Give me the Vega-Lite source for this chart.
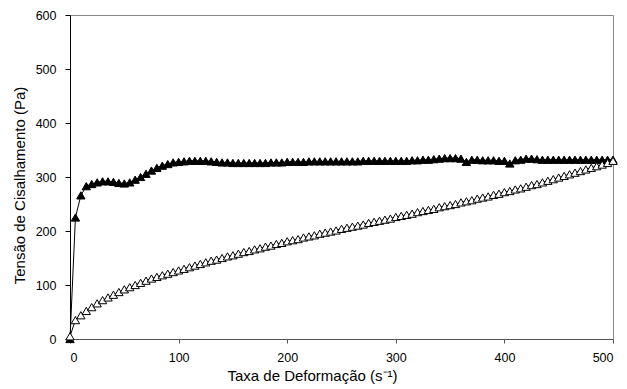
{
"$schema": "https://vega.github.io/schema/vega-lite/v6.json",
"autosize": "none",
"width": 543,
"height": 324,
"padding": {"left": 70, "top": 15, "right": 14, "bottom": 50},
"background": "white",
"config": {"view": {"stroke": "#888888", "strokeWidth": 1}, "font": "Liberation Sans"},
"data": {"values": [
{"x":0,"y":0,"s":"up"},{"x":5,"y":225,"s":"up"},{"x":10,"y":266,"s":"up"},{"x":15,"y":283,"s":"up"},{"x":20,"y":287,"s":"up"},{"x":25,"y":290,"s":"up"},{"x":30,"y":292,"s":"up"},{"x":35,"y":292,"s":"up"},{"x":40,"y":291,"s":"up"},{"x":45,"y":289,"s":"up"},{"x":50,"y":288,"s":"up"},{"x":55,"y":290,"s":"up"},{"x":60,"y":295,"s":"up"},{"x":65,"y":300,"s":"up"},{"x":70,"y":306,"s":"up"},{"x":75,"y":312,"s":"up"},{"x":80,"y":317,"s":"up"},{"x":85,"y":321,"s":"up"},{"x":90,"y":324,"s":"up"},{"x":95,"y":327,"s":"up"},{"x":100,"y":328,"s":"up"},{"x":105,"y":329,"s":"up"},{"x":110,"y":330,"s":"up"},{"x":115,"y":330,"s":"up"},{"x":120,"y":330,"s":"up"},{"x":125,"y":330,"s":"up"},{"x":130,"y":329,"s":"up"},{"x":135,"y":328,"s":"up"},{"x":140,"y":327,"s":"up"},{"x":145,"y":327,"s":"up"},{"x":150,"y":326,"s":"up"},{"x":155,"y":326,"s":"up"},{"x":160,"y":326,"s":"up"},{"x":165,"y":326,"s":"up"},{"x":170,"y":326,"s":"up"},{"x":175,"y":326,"s":"up"},{"x":180,"y":326,"s":"up"},{"x":185,"y":327,"s":"up"},{"x":190,"y":327,"s":"up"},{"x":195,"y":327,"s":"up"},{"x":200,"y":328,"s":"up"},{"x":205,"y":328,"s":"up"},{"x":210,"y":328,"s":"up"},{"x":215,"y":328,"s":"up"},{"x":220,"y":329,"s":"up"},{"x":225,"y":329,"s":"up"},{"x":230,"y":329,"s":"up"},{"x":235,"y":329,"s":"up"},{"x":240,"y":329,"s":"up"},{"x":245,"y":329,"s":"up"},{"x":250,"y":329,"s":"up"},{"x":255,"y":329,"s":"up"},{"x":260,"y":329,"s":"up"},{"x":265,"y":329,"s":"up"},{"x":270,"y":330,"s":"up"},{"x":275,"y":330,"s":"up"},{"x":280,"y":330,"s":"up"},{"x":285,"y":330,"s":"up"},{"x":290,"y":330,"s":"up"},{"x":295,"y":330,"s":"up"},{"x":300,"y":330,"s":"up"},{"x":305,"y":330,"s":"up"},{"x":310,"y":330,"s":"up"},{"x":315,"y":331,"s":"up"},{"x":320,"y":331,"s":"up"},{"x":325,"y":332,"s":"up"},{"x":330,"y":332,"s":"up"},{"x":335,"y":333,"s":"up"},{"x":340,"y":334,"s":"up"},{"x":345,"y":335,"s":"up"},{"x":350,"y":335,"s":"up"},{"x":355,"y":335,"s":"up"},{"x":360,"y":334,"s":"up"},{"x":365,"y":328,"s":"up"},{"x":370,"y":332,"s":"up"},{"x":375,"y":332,"s":"up"},{"x":380,"y":331,"s":"up"},{"x":385,"y":331,"s":"up"},{"x":390,"y":331,"s":"up"},{"x":395,"y":330,"s":"up"},{"x":400,"y":330,"s":"up"},{"x":405,"y":325,"s":"up"},{"x":410,"y":331,"s":"up"},{"x":415,"y":332,"s":"up"},{"x":420,"y":334,"s":"up"},{"x":425,"y":334,"s":"up"},{"x":430,"y":333,"s":"up"},{"x":435,"y":332,"s":"up"},{"x":440,"y":332,"s":"up"},{"x":445,"y":332,"s":"up"},{"x":450,"y":332,"s":"up"},{"x":455,"y":332,"s":"up"},{"x":460,"y":332,"s":"up"},{"x":465,"y":332,"s":"up"},{"x":470,"y":332,"s":"up"},{"x":475,"y":332,"s":"up"},{"x":480,"y":332,"s":"up"},{"x":485,"y":332,"s":"up"},{"x":490,"y":332,"s":"up"},{"x":495,"y":332,"s":"up"},{"x":500,"y":332,"s":"up"},
{"x":0,"y":5,"s":"down"},{"x":5,"y":35,"s":"down"},{"x":10,"y":44,"s":"down"},{"x":15,"y":52,"s":"down"},{"x":20,"y":59,"s":"down"},{"x":25,"y":66,"s":"down"},{"x":30,"y":72,"s":"down"},{"x":35,"y":77,"s":"down"},{"x":40,"y":82,"s":"down"},{"x":45,"y":87,"s":"down"},{"x":50,"y":92,"s":"down"},{"x":55,"y":96,"s":"down"},{"x":60,"y":100,"s":"down"},{"x":65,"y":104,"s":"down"},{"x":70,"y":108,"s":"down"},{"x":75,"y":112,"s":"down"},{"x":80,"y":115,"s":"down"},{"x":85,"y":118,"s":"down"},{"x":90,"y":121,"s":"down"},{"x":95,"y":124,"s":"down"},{"x":100,"y":127,"s":"down"},{"x":105,"y":130,"s":"down"},{"x":110,"y":133,"s":"down"},{"x":115,"y":136,"s":"down"},{"x":120,"y":139,"s":"down"},{"x":125,"y":142,"s":"down"},{"x":130,"y":145,"s":"down"},{"x":135,"y":147,"s":"down"},{"x":140,"y":150,"s":"down"},{"x":145,"y":153,"s":"down"},{"x":150,"y":155,"s":"down"},{"x":155,"y":158,"s":"down"},{"x":160,"y":161,"s":"down"},{"x":165,"y":163,"s":"down"},{"x":170,"y":166,"s":"down"},{"x":175,"y":168,"s":"down"},{"x":180,"y":171,"s":"down"},{"x":185,"y":173,"s":"down"},{"x":190,"y":176,"s":"down"},{"x":195,"y":178,"s":"down"},{"x":200,"y":181,"s":"down"},{"x":205,"y":183,"s":"down"},{"x":210,"y":185,"s":"down"},{"x":215,"y":188,"s":"down"},{"x":220,"y":190,"s":"down"},{"x":225,"y":192,"s":"down"},{"x":230,"y":195,"s":"down"},{"x":235,"y":197,"s":"down"},{"x":240,"y":199,"s":"down"},{"x":245,"y":201,"s":"down"},{"x":250,"y":204,"s":"down"},{"x":255,"y":206,"s":"down"},{"x":260,"y":208,"s":"down"},{"x":265,"y":210,"s":"down"},{"x":270,"y":212,"s":"down"},{"x":275,"y":215,"s":"down"},{"x":280,"y":217,"s":"down"},{"x":285,"y":219,"s":"down"},{"x":290,"y":221,"s":"down"},{"x":295,"y":223,"s":"down"},{"x":300,"y":226,"s":"down"},{"x":305,"y":228,"s":"down"},{"x":310,"y":230,"s":"down"},{"x":315,"y":232,"s":"down"},{"x":320,"y":235,"s":"down"},{"x":325,"y":237,"s":"down"},{"x":330,"y":239,"s":"down"},{"x":335,"y":241,"s":"down"},{"x":340,"y":244,"s":"down"},{"x":345,"y":246,"s":"down"},{"x":350,"y":248,"s":"down"},{"x":355,"y":250,"s":"down"},{"x":360,"y":253,"s":"down"},{"x":365,"y":255,"s":"down"},{"x":370,"y":257,"s":"down"},{"x":375,"y":260,"s":"down"},{"x":380,"y":262,"s":"down"},{"x":385,"y":264,"s":"down"},{"x":390,"y":267,"s":"down"},{"x":395,"y":269,"s":"down"},{"x":400,"y":272,"s":"down"},{"x":405,"y":274,"s":"down"},{"x":410,"y":277,"s":"down"},{"x":415,"y":279,"s":"down"},{"x":420,"y":282,"s":"down"},{"x":425,"y":285,"s":"down"},{"x":430,"y":287,"s":"down"},{"x":435,"y":290,"s":"down"},{"x":440,"y":293,"s":"down"},{"x":445,"y":296,"s":"down"},{"x":450,"y":299,"s":"down"},{"x":455,"y":302,"s":"down"},{"x":460,"y":305,"s":"down"},{"x":465,"y":308,"s":"down"},{"x":470,"y":311,"s":"down"},{"x":475,"y":314,"s":"down"},{"x":480,"y":317,"s":"down"},{"x":485,"y":320,"s":"down"},{"x":490,"y":323,"s":"down"},{"x":495,"y":326,"s":"down"},{"x":500,"y":330,"s":"down"}
]},
"encoding": {
  "x": {"field": "x", "type": "quantitative", "scale": {"domain": [0, 500], "nice": false},
        "axis": {"title": "Taxa de Deformação (s⁻¹)", "values": [0,100,200,300,400,500], "grid": false,
                 "domainColor": "#555555", "tickColor": "#555555", "tickSize": 4, "labelPadding": 8,
                 "labelFontSize": 12.5, "labelColor": "#000000", "titleFontSize": 15, "titleFontWeight": "normal",
                 "titleColor": "#000000", "titlePadding": 5, "titleX": 242, "titleAlign": "center", "titleAnchor": "start",
                 "labelFont": "Liberation Sans", "titleFont": "Liberation Sans"}},
  "y": {"field": "y", "type": "quantitative", "scale": {"domain": [0, 600], "nice": false},
        "axis": {"title": "Tensão de Cisalhamento (Pa)", "values": [0,100,200,300,400,500,600], "grid": false,
                 "domainColor": "#000000", "tickColor": "#000000", "tickSize": 5, "labelPadding": 9,
                 "labelFontSize": 12.5, "labelColor": "#000000", "titleFontSize": 15, "titleFontWeight": "normal",
                 "titleColor": "#000000", "titlePadding": 8, "titleY": 170, "titleAlign": "center", "titleAnchor": "start",
                 "labelFont": "Liberation Sans", "titleFont": "Liberation Sans"}}
},
"layer": [
  {"mark": {"type": "line", "color": "black", "strokeWidth": 1}, "encoding": {"detail": {"field": "s"}, "order": {"field": "x"}}},
  {"mark": {"type": "point", "shape": "triangle-up", "size": 70, "filled": true, "stroke": "black", "strokeWidth": 1, "opacity": 1},
   "encoding": {"fill": {"field": "s", "type": "nominal", "scale": {"domain": ["up", "down"], "range": ["black", "white"]}, "legend": null}}}
]
}
